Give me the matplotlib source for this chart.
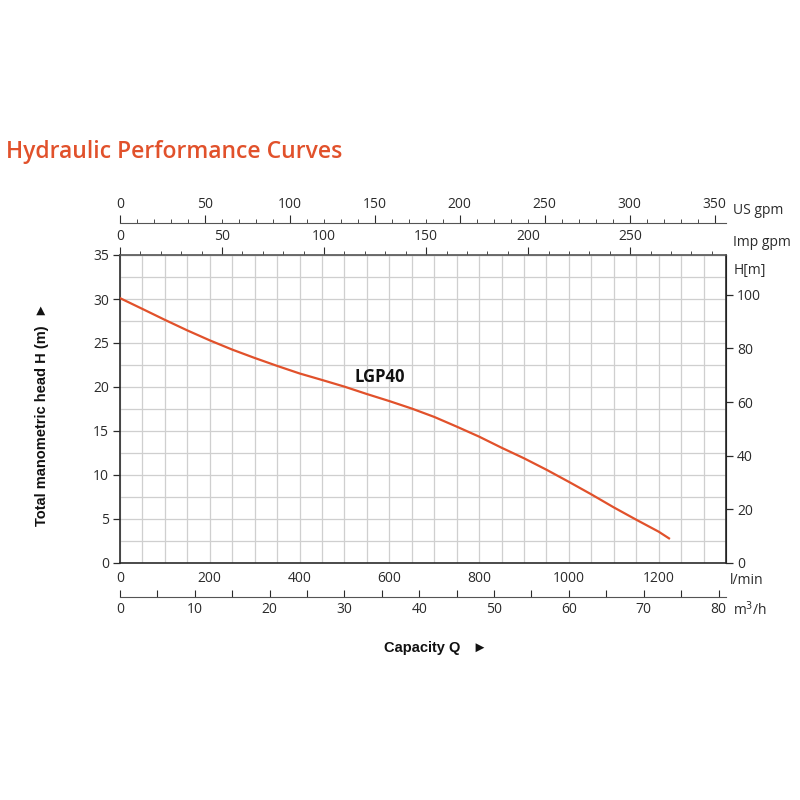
import matplotlib
matplotlib.use("Agg")
import matplotlib.pyplot as plt
import numpy as np

# pump curve LGP40 at each 50 l/min grid line
flow_lpm = [0, 50, 100, 150, 200, 250, 300, 350, 400, 450, 500, 550, 600, 650,
            700, 750, 800, 850, 900, 950, 1000, 1050, 1100, 1150, 1200, 1223]
head_m = [30.1, 28.87, 27.63, 26.43, 25.3, 24.25, 23.3, 22.4, 21.54, 20.8, 20.04, 19.2, 18.4, 17.55,
          16.6, 15.5, 14.36, 13.1, 11.9, 10.6, 9.22, 7.8, 6.32, 4.92, 3.56, 2.8]
curve_name = "LGP40"

lpm_ticks = [0, 200, 400, 600, 800, 1000, 1200]
m3h_ticks = [0, 10, 20, 30, 40, 50, 60, 70, 80]
usgpm_ticks = [0, 50, 100, 150, 200, 250, 300, 350]
impgpm_ticks = [0, 50, 100, 150, 200, 250]
head_ticks = [0, 5, 10, 15, 20, 25, 30, 35]
ft_ticks = [0, 20, 40, 60, 80, 100]

orange = "#e1512b"
dark = "#2b2b2b"
plt.rcParams['font.family'] = ['Open Sans', 'DejaVu Sans']
plt.rcParams['font.size'] = 10
bold_font = ['Liberation Sans', 'DejaVu Sans']

fig = plt.figure(figsize=(8, 8), dpi=100)
ax = fig.add_axes([0.15, 0.29625, 0.7575, 0.385])

ax.plot(flow_lpm, head_m, color=orange, lw=1.6, zorder=3, solid_joinstyle='round')
ax.set_xlim(0, 1350)
ax.set_ylim(0, 35)

ax.set_xticks(lpm_ticks)
ax.set_xticks(np.arange(0, 1351, 50), minor=True)
ax.set_yticks(head_ticks)
ax.set_yticks(np.arange(0, 35.1, 2.5), minor=True)
ax.grid(which='both', color='#cfcfcf', lw=0.9)
ax.set_axisbelow(True)
ax.tick_params(axis='x', which='both', length=0, pad=6, colors=dark)
ax.tick_params(axis='y', which='major', length=5, width=0.9, colors=dark, pad=3)
ax.tick_params(axis='y', which='minor', length=0)
for s in ax.spines.values():
    s.set_color(dark)
    s.set_linewidth(1.2)
ax.spines['top'].set_color('#555555')

# Imp gpm on top spine
imp = ax.secondary_xaxis('top', functions=(lambda q: q / 4.546, lambda g: g * 4.546))
imp.set_xticks(impgpm_ticks)
imp.set_xticks(np.arange(0, 291, 10), minor=True)
imp.tick_params(which='major', length=6, width=0.8, colors=dark, pad=2)
imp.tick_params(which='minor', length=3, width=0.6, colors=dark)
imp.spines['top'].set_color('#555555')

# US gpm separate line above
us = ax.secondary_xaxis(1.104, functions=(lambda q: q / 3.785, lambda g: g * 3.785))
us.set_xticks(usgpm_ticks)
us.set_xticks(np.arange(0, 351, 10), minor=True)
us.tick_params(which='major', length=6, width=0.8, colors=dark, pad=2)
us.tick_params(which='minor', length=3, width=0.6, colors=dark)
us.spines['top'].set_color('#555555')

# m3/h separate line below
m3 = ax.secondary_xaxis(-0.11, functions=(lambda q: q * 0.06, lambda v: v / 0.06))
m3.set_xticks(m3h_ticks)
m3.set_xticks(np.arange(0, 81, 5), minor=True)
m3.tick_params(which='both', direction='in', length=5, width=0.8, colors=dark, pad=4)
m3.spines['bottom'].set_color('#555555')

# feet on the right
ft = ax.secondary_yaxis('right', functions=(lambda h: h / 0.3048, lambda f: f * 0.3048))
ft.set_yticks(ft_ticks)
ft.tick_params(length=5, width=0.9, colors=dark, pad=3)

ax.text(1.012, 1.144, "US gpm", transform=ax.transAxes, va='center', ha='left', color=dark, fontsize=10)
ax.text(1.012, 1.042, "Imp gpm", transform=ax.transAxes, va='center', ha='left', color=dark, fontsize=10)
ax.text(1.012, 0.95, "H[m]", transform=ax.transAxes, va='center', ha='left', color=dark, fontsize=10)
ax.text(1.006, -0.056, "l/min", transform=ax.transAxes, va='center', ha='left', color=dark, fontsize=10)
ax.text(1.012, -0.153, "m$^3$/h", transform=ax.transAxes, va='center', ha='left', color=dark, fontsize=10)

ax.text(522, 20.1, curve_name, fontsize=12, fontweight='bold', color='#111111', ha='left', va='bottom')

fig.text(0.0525, 0.482, "Total manometric head H (m)  \u25ba", rotation=90, ha='center', va='center',
         fontsize=10.5, fontweight='bold', family=bold_font, color='#111111')
fig.text(0.544, 0.19, "Capacity Q   \u25ba", ha='center', va='center', fontsize=10.5,
         fontweight='bold', family=bold_font, color='#111111')
fig.text(0.008, 0.81, "Hydraulic Performance Curves", ha='left', va='center', fontsize=16.5,
         color=orange, fontweight='semibold')

fig.savefig("out.png", dpi=100, facecolor='white')
